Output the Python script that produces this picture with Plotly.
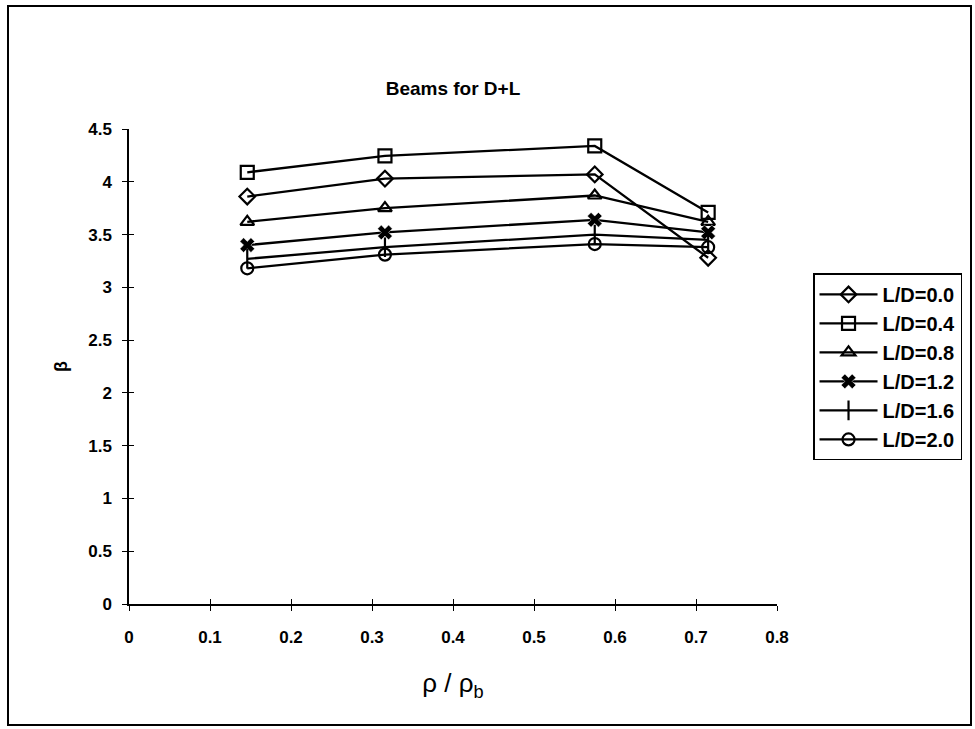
import plotly.graph_objects as go

x_vals = [0.146, 0.316, 0.575, 0.715]
ld_00 = [3.86, 4.03, 4.07, 3.28]
ld_04 = [4.09, 4.245, 4.34, 3.71]
ld_08 = [3.62, 3.75, 3.87, 3.62]
ld_12 = [3.40, 3.52, 3.64, 3.52]
ld_16 = [3.27, 3.38, 3.50, 3.45]
ld_20 = [3.18, 3.31, 3.41, 3.38]
names = ["L/D=0.0", "L/D=0.4", "L/D=0.8", "L/D=1.2", "L/D=1.6", "L/D=2.0"]
series = [ld_00, ld_04, ld_08, ld_12, ld_16, ld_20]
symbols = ["diamond-open", "square-open", "triangle-up-open", "x", "line-ns-open", "circle-open"]
sizes = [12, 13, 12, 13, 14, 12]
x_ticks = [0, 0.1, 0.2, 0.3, 0.4, 0.5, 0.6, 0.7, 0.8]
y_ticks = [0, 0.5, 1, 1.5, 2, 2.5, 3, 3.5, 4, 4.5]

FONT = "Liberation Sans, Arial, sans-serif"

fig = go.Figure()
for i, (nm, ys, sym, sz) in enumerate(zip(names, series, symbols, sizes)):
    mk = dict(symbol=sym, size=sz, color="black", line=dict(color="black", width=2.2))
    if sym == "x":
        mk = dict(symbol="x", size=sz, color="black", line=dict(color="white", width=0.5))
    fig.add_trace(go.Scatter(
        x=x_vals, y=ys, name=nm, mode="lines+markers",
        line=dict(color="black", width=2.3),
        marker=mk, legendgroup=f"g{i}",
    ))

# invisible trace on overlay axes that carry the inside half of each tick
fig.add_trace(go.Scatter(x=[0], y=[0], xaxis="x2", yaxis="y2", mode="markers",
                         marker=dict(opacity=0), showlegend=False, hoverinfo="skip"))

tick_font = dict(size=17, family=FONT, weight="bold")

fig.update_layout(
    width=975, height=729,
    margin=dict(l=129, r=198, t=129, b=125),
    paper_bgcolor="white", plot_bgcolor="white",
    font=dict(family=FONT, color="black", size=14),
    title=dict(text="<b>Beams for D+L</b>", x=0.4646, xanchor="center", y=0.879, yanchor="middle",
               font=dict(size=19, family=FONT)),
    xaxis=dict(range=[0, 0.8], tickvals=x_ticks, ticktext=[f"{v:g}" for v in x_ticks],
               showgrid=False, zeroline=False, showline=True, linecolor="black", linewidth=1.5,
               ticks="outside", ticklen=5, tickcolor="black", tickwidth=1.2,
               tickfont=tick_font, ticklabelstandoff=12,
               title=dict(text="ρ / ρ<sub>b</sub>", font=dict(size=26, family=FONT), standoff=28)),
    yaxis=dict(range=[0, 4.5], tickvals=y_ticks, ticktext=[f"{v:g}" for v in y_ticks],
               showgrid=False, zeroline=False, showline=True, linecolor="black", linewidth=1.5,
               ticks="outside", ticklen=5, tickcolor="black", tickwidth=1.2,
               tickfont=tick_font, ticklabelstandoff=7,
               title=dict(text="<b>β</b>", font=dict(size=18, family=FONT), standoff=16)),
    xaxis2=dict(overlaying="x", range=[0, 0.8], tickvals=x_ticks, showticklabels=False,
                ticks="inside", ticklen=5, tickcolor="black", tickwidth=1.2, showgrid=False,
                zeroline=False, showline=False, side="bottom"),
    yaxis2=dict(overlaying="y", range=[0, 4.5], tickvals=y_ticks, showticklabels=False,
                ticks="inside", ticklen=5, tickcolor="black", tickwidth=1.2, showgrid=False,
                zeroline=False, showline=False, side="left"),
    legend=dict(x=1.0556, y=0.696, xanchor="left", yanchor="top",
                bordercolor="black", borderwidth=1.5, bgcolor="white",
                font=dict(size=20, family=FONT, weight="bold"), tracegroupgap=0, itemwidth=58),
    showlegend=True,
    shapes=[dict(type="rect", xref="paper", yref="paper",
                 x0=(8 - 129) / 648, x1=(971 - 129) / 648,
                 y0=(604 - 725) / 475, y1=(604 - 6) / 475,
                 line=dict(color="black", width=2), layer="below")],
)

fig.write_html("out.html")
